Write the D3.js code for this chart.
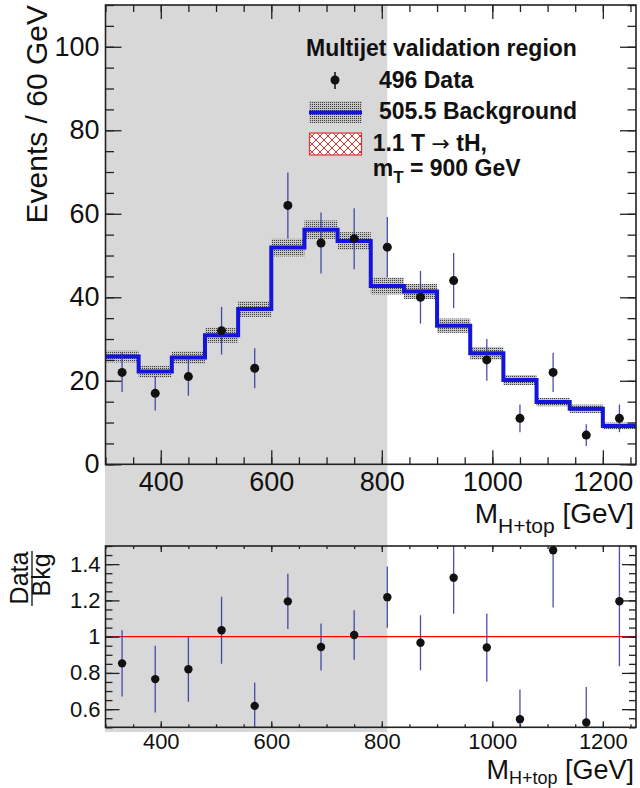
<!DOCTYPE html>
<html lang="en">
<head>
<meta charset="UTF-8">
<title>Multijet validation region</title>
<script src="https://d3js.org/d3.v7.min.js"></script>
<style>
  body { margin: 0; background: #fff; }
  svg { display: block; font-family: "Liberation Sans", Arial, Helvetica, sans-serif; }
  .tick line { stroke: #222; stroke-width: 1.3; }
  .tick text { fill: #111; }
</style>
</head>
<body>
<svg width="640" height="788"></svg>
<script>
// binning (GeV) and yields
const binEdges = [300, 360, 420, 480, 540, 600, 660, 720, 780, 840, 900, 960, 1020, 1080, 1140, 1200, 1260];
const dataCounts = [22, 17, 21, 32, 23, 62, 53, 54, 52, 40, 44, 25, 11, 22, 7, 11];
const dataErr = [4.7, 4.1, 4.6, 5.7, 4.8, 7.9, 7.3, 7.3, 7.2, 6.3, 6.6, 5.0, 3.3, 4.7, 2.6, 3.3];
const bkgYield = [25.8, 22.2, 25.6, 30.9, 37.2, 51.9, 56.2, 53.5, 42.7, 41.4, 33.2, 26.6, 20.2, 14.9, 13.3, 9.2];
const bkgErr = [1.4, 1.4, 1.5, 1.8, 1.9, 2.1, 2.2, 2.1, 2.0, 1.8, 1.7, 1.5, 1.2, 1.0, 1.0, 0.8];
const signalYield = [0, 0, 0, 0, 0, 0, 0.05, 0.15, 0.3, 0.3, 0.15, 0.1, 0.03, 0.02, 0, 0];
const blindedUpTo = 810; // shaded region

const xTicks = [400, 600, 800, 1000, 1200];
const yTicks = [0, 20, 40, 60, 80, 100];
const rTicks = [0.6, 0.8, 1, 1.2, 1.4];

const svg = d3.select("svg");
const frame = { left: 105.5, right: 636, top: 5, bottom: 464.3 };
const rframe = { top: 546, bottom: 727.3 };

const x = d3.scaleLinear().domain([300, 1260]).range([frame.left, frame.right]);
const y = d3.scaleLinear().domain([0, 110]).range([frame.bottom, frame.top]);
const yr = d3.scaleLinear().domain([0.5, 1.5]).range([rframe.bottom, rframe.top]);

const bins = dataCounts.map((d, i) => ({
    lo: binEdges[i], hi: binEdges[i + 1], mid: (binEdges[i] + binEdges[i + 1]) / 2,
    data: d, err: dataErr[i], bkg: bkgYield[i], bkgErr: bkgErr[i], sig: signalYield[i]
}));

// patterns
const defs = svg.append("defs");
const stip = defs.append("pattern").attr("id", "stipple").attr("patternUnits", "userSpaceOnUse")
    .attr("width", 2).attr("height", 2);
stip.append("rect").attr("width", 2).attr("height", 2).attr("fill", "#c4c4c4");
stip.append("rect").attr("width", 1).attr("height", 1).attr("fill", "#3a3a3a");
const hatch = defs.append("pattern").attr("id", "hatch").attr("patternUnits", "userSpaceOnUse")
    .attr("width", 8).attr("height", 8);
hatch.append("rect").attr("width", 8).attr("height", 8).attr("fill", "#fff");
hatch.append("path").attr("d", "M0,0L8,8M8,0L0,8").attr("stroke", "#e03333").attr("stroke-width", 1);
defs.append("clipPath").attr("id", "rclip").append("rect")
    .attr("x", frame.left).attr("y", rframe.top)
    .attr("width", frame.right - frame.left).attr("height", rframe.bottom - rframe.top);

// grey shaded region across both pads
svg.append("rect")
    .attr("x", 105).attr("y", frame.top)
    .attr("width", x(blindedUpTo) - 105).attr("height", 732 - frame.top)
    .attr("fill", "#d8d8d8");

// axes helper
function axes(ys, top, bottom, o) {
    const fix = g => g.attr("font-family", null).attr("font-size", null).call(a => a.select(".domain").remove());
    svg.append("g").attr("transform", `translate(${frame.left},0)`).attr("class", "ax")
        .call(d3.axisLeft(ys).tickValues(o.yMinor).tickSize(-o.yMin).tickFormat("")).call(fix);
    svg.append("g").attr("transform", `translate(${frame.left},0)`)
        .call(d3.axisLeft(ys).tickValues(o.yMajor).tickSize(-o.yMaj).tickPadding(o.yPad).tickFormat(o.yFmt))
        .call(fix).selectAll("text").attr("font-size", o.yFont);
    svg.append("g").attr("transform", `translate(${frame.right},0)`)
        .call(d3.axisRight(ys).tickValues(o.yMinor).tickSize(-o.yMin).tickFormat("")).call(fix);
    svg.append("g").attr("transform", `translate(${frame.right},0)`)
        .call(d3.axisRight(ys).tickValues(o.yMajor).tickSize(-o.yMaj).tickFormat("")).call(fix);
    const xMinor = d3.range(300, 1261, 50);
    svg.append("g").attr("transform", `translate(0,${bottom})`)
        .call(d3.axisBottom(x).tickValues(xMinor).tickSize(-o.xMin).tickFormat("")).call(fix);
    svg.append("g").attr("transform", `translate(0,${bottom})`)
        .call(d3.axisBottom(x).tickValues(xTicks).tickSize(-o.xMaj).tickPadding(o.xPad).tickFormat(d3.format("d")))
        .call(fix).selectAll("text").attr("font-size", o.xFont);
    svg.append("g").attr("transform", `translate(0,${top})`)
        .call(d3.axisTop(x).tickValues(xMinor).tickSize(-o.xMin).tickFormat("")).call(fix);
    svg.append("g").attr("transform", `translate(0,${top})`)
        .call(d3.axisTop(x).tickValues(xTicks).tickSize(-o.xMaj).tickFormat("")).call(fix);
}

// ---------- main pad ----------
// background uncertainty band
svg.append("g").selectAll("rect").data(bins).join("rect")
    .attr("x", d => x(d.lo)).attr("width", d => x(d.hi) - x(d.lo))
    .attr("y", d => y(d.bkg + d.bkgErr)).attr("height", d => y(d.bkg - d.bkgErr) - y(d.bkg + d.bkgErr))
    .attr("fill", "url(#stipple)");

const step = d3.line().curve(d3.curveStepAfter);
const last = bins[bins.length - 1];
svg.append("path")
    .attr("d", step(bins.map(d => [x(d.lo), y(d.bkg + d.sig)]).concat([[x(last.hi), y(last.bkg + last.sig)]])))
    .attr("fill", "none").attr("stroke", "#e03333").attr("stroke-width", 1);
svg.append("path")
    .attr("d", step(bins.map(d => [x(d.lo), y(d.bkg)]).concat([[x(last.hi), y(last.bkg)]])))
    .attr("fill", "none").attr("stroke", "#1414dc").attr("stroke-width", 4);

svg.append("g").selectAll("line").data(bins).join("line")
    .attr("x1", d => x(d.mid)).attr("x2", d => x(d.mid))
    .attr("y1", d => y(d.data + d.err)).attr("y2", d => y(d.data - d.err))
    .attr("stroke", "#2a30a0").attr("stroke-width", 1.3).attr("stroke-opacity", 0.85);
svg.append("g").selectAll("circle").data(bins).join("circle")
    .attr("cx", d => x(d.mid)).attr("cy", d => y(d.data)).attr("r", 4.5).attr("fill", "#111");

axes(y, frame.top, frame.bottom, {
    yMajor: yTicks, yMinor: d3.range(0, 111, 5), yMaj: 16, yMin: 8.5, yPad: 6, yFont: 27, yFmt: d3.format("d"),
    xMaj: 14, xMin: 7, xPad: 8, xFont: 27
});
svg.append("rect").attr("x", frame.left).attr("y", frame.top)
    .attr("width", frame.right - frame.left).attr("height", frame.bottom - frame.top)
    .attr("fill", "none").attr("stroke", "#222").attr("stroke-width", 1.6);

// titles
svg.append("text").attr("transform", "translate(47,5) rotate(-90)").attr("text-anchor", "end")
    .attr("font-size", 30).attr("fill", "#111").text("Events / 60 GeV");
function massTitle(yb, fs, sub, subFs) {
    const t = svg.append("text").attr("x", 634).attr("y", yb).attr("text-anchor", "end")
        .attr("font-size", fs).attr("fill", "#111");
    t.append("tspan").text("M");
    t.append("tspan").attr("dy", sub).attr("font-size", subFs).text("H+top");
    t.append("tspan").attr("dy", -sub).text(" [GeV]");
}
massTitle(523, 28, 10, 21);

// legend
const lg = svg.append("g").attr("font-weight", "bold").attr("font-size", 23).attr("fill", "#111");
lg.append("text").attr("x", 306).attr("y", 55.5).text("Multijet validation region");
lg.append("line").attr("x1", 335).attr("x2", 335).attr("y1", 72).attr("y2", 89).attr("stroke", "#111").attr("stroke-width", 1.5);
lg.append("circle").attr("cx", 335).attr("cy", 80).attr("r", 4.5).attr("fill", "#111");
lg.append("text").attr("x", 379).attr("y", 87.5).text(dataCounts.reduce((a, b) => a + b, 0) + " Data");
lg.append("rect").attr("x", 309).attr("y", 101).attr("width", 53).attr("height", 22).attr("fill", "url(#stipple)");
lg.append("line").attr("x1", 309).attr("x2", 362).attr("y1", 112.5).attr("y2", 112.5).attr("stroke", "#1414dc").attr("stroke-width", 4);
lg.append("text").attr("x", 379).attr("y", 119).text("505.5 Background");
lg.append("rect").attr("x", 309.5).attr("y", 133).attr("width", 52).attr("height", 22)
    .attr("fill", "url(#hatch)").attr("stroke", "#e03333").attr("stroke-width", 1.2);
const sigT = lg.append("text").attr("x", 372.7).attr("y", 151);
sigT.append("tspan").text("1.1 T  ");
sigT.append("tspan").attr("font-family", "DejaVu Sans").attr("font-weight", "normal").attr("font-size", 22).text("\u2192");
sigT.append("tspan").text("  tH,");
const mt = lg.append("text").attr("x", 372.7).attr("y", 176);
mt.append("tspan").text("m");
mt.append("tspan").attr("dy", 7).attr("font-size", 17).text("T");
mt.append("tspan").attr("dy", -7).text(" = 900 GeV");

// ---------- ratio pad ----------
const ratio = bins.map(d => ({ mid: d.mid, r: d.data / d.bkg, e: d.err / d.bkg }));
svg.append("line").attr("x1", frame.left).attr("x2", frame.right)
    .attr("y1", yr(1)).attr("y2", yr(1)).attr("stroke", "#f00").attr("stroke-width", 1.2);
svg.append("g").attr("clip-path", "url(#rclip)").selectAll("line").data(ratio).join("line")
    .attr("x1", d => x(d.mid)).attr("x2", d => x(d.mid))
    .attr("y1", d => yr(d.r + d.e)).attr("y2", d => yr(d.r - d.e))
    .attr("stroke", "#2a30a0").attr("stroke-width", 1.3).attr("stroke-opacity", 0.85);

axes(yr, rframe.top, rframe.bottom, {
    yMajor: rTicks, yMinor: d3.range(0.5, 1.501, 0.05), yMaj: 14, yMin: 7, yPad: 5, yFont: 22, yFmt: d3.format("~g"),
    xMaj: 6, xMin: 3, xPad: 6, xFont: 22
});
svg.append("rect").attr("x", frame.left).attr("y", rframe.top)
    .attr("width", frame.right - frame.left).attr("height", rframe.bottom - rframe.top)
    .attr("fill", "none").attr("stroke", "#222").attr("stroke-width", 1.6);
svg.append("g").selectAll("circle").data(ratio).join("circle")
    .attr("cx", d => x(d.mid)).attr("cy", d => yr(d.r)).attr("r", 4.2).attr("fill", "#111");

// Data/Bkg fraction title
svg.append("text").attr("transform", "translate(28,578) rotate(-90)").attr("text-anchor", "middle")
    .attr("font-size", 25).attr("fill", "#111").text("Data");
svg.append("line").attr("x1", 32).attr("x2", 32).attr("y1", 551).attr("y2", 606)
    .attr("stroke", "#111").attr("stroke-width", 1.3);
svg.append("text").attr("transform", "translate(50,575) rotate(-90)").attr("text-anchor", "middle")
    .attr("font-size", 25).attr("fill", "#111").text("Bkg");
massTitle(779, 27, 5, 18);
</script>
</body>
</html>
